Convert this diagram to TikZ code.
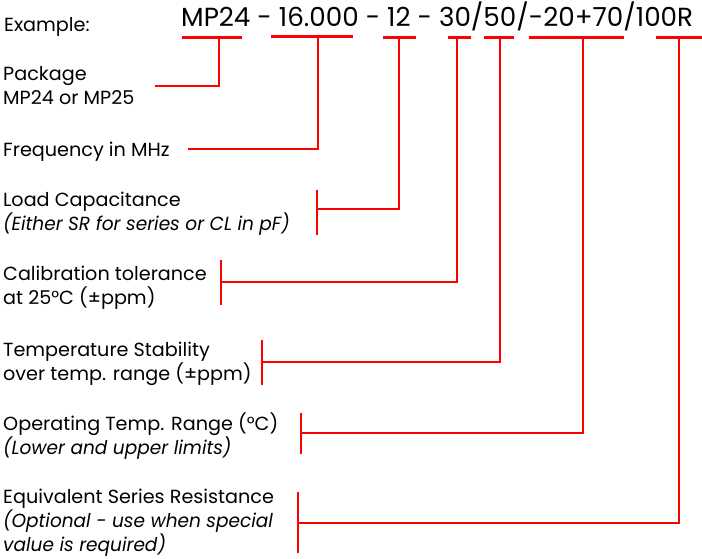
\documentclass[tikz,border=0pt]{standalone}
\usepackage{fontspec}
\setmainfont{Poppins}
\newfontfamily\lblfont[FakeStretch=1.01,ItalicFeatures={FakeStretch=0.975}]{Poppins}
\begin{document}
\begin{tikzpicture}[x=1pt,y=-1pt,
  lbl/.style={anchor=base west,inner sep=0pt,font=\lblfont\fontsize{19}{24}\selectfont,align=left},
  code/.style={anchor=base west,inner sep=0pt,font=\fontsize{26.2}{30}\selectfont},
  redline/.style={draw=red,line width=2.8pt}]
\useasboundingbox (0,0) rectangle (702,558);
% texts (anchored at the baseline of their last line)
\node[lbl] (ex) at (4,31) {Example:};
\node[code] (cd) at (181,26.5) {MP24 - 16.000 - 12 - 30/50/-20+70/100R};
\node[lbl] (pk) at (3,104) {Package\\MP24 or MP25};
\node[lbl] (fq) at (3,156.5) {Frequency in MHz};
\node[lbl] (lc) at (3,230) {Load Capacitance\\\itshape (Either SR for series or CL in pF)};
\node[lbl] (ct) at (3,304) {Calibration tolerance\\at 25°C (±ppm)};
\node[lbl] (ts) at (3,380) {Temperature Stability\\over temp. range (±ppm)};
\node[lbl] (ot) at (3,454) {Operating Temp. Range (°C)\\\itshape (Lower and upper limits)};
\node[lbl] (es) at (3,551.5) {Equivalent Series Resistance\\\itshape (Optional - use when special\\\itshape value is required)};
% stem tops
\coordinate (t1) at (219,37.7);
\coordinate (t2) at (318,36.7);
\coordinate (t3) at (399,37.7);
\coordinate (t4) at (457,37.7);
\coordinate (t5) at (500,37.7);
\coordinate (t6) at (583,37.7);
\coordinate (t7) at (679,37.7);
% bars
\draw[redline] ([xshift=-37pt]t1) -- ([xshift=23pt]t1);
\draw[redline] ([xshift=-47pt]t2) -- ([xshift=35pt]t2);
\draw[redline] ([xshift=-16pt]t3) -- ([xshift=17pt]t3);
\draw[redline] ([xshift=-9pt]t4) -- ([xshift=14pt]t4);
\draw[redline] ([xshift=-16pt]t5) -- ([xshift=14pt]t5);
\draw[redline] ([xshift=-54pt]t6) -- ([xshift=41pt]t6);
\draw[redline] ([xshift=-23pt]t7) -- ([xshift=24pt]t7);
% label ends
\coordinate (e1) at (155,86);
\coordinate (e2) at (188,149);
\coordinate (e3) at (317,209);
\coordinate (e4) at (221,282);
\coordinate (e5) at (262,362);
\coordinate (e6) at (301,433);
\coordinate (e7) at (298,523);
% ticks
\draw[redline] ([yshift=-26pt]e3) -- ([yshift=19pt]e3);
\draw[redline] ([yshift=-23pt]e4) -- ([yshift=22pt]e4);
\draw[redline] ([yshift=-23pt]e5) -- ([yshift=22pt]e5);
\draw[redline] ([yshift=-21pt]e6) -- ([yshift=20pt]e6);
\draw[redline] ([yshift=-30pt]e7) -- ([yshift=31pt]e7);
% connectors
\draw[redline] (e1) -| (t1);
\draw[redline] (e2) -| (t2);
\draw[redline] (e3) -| (t3);
\draw[redline] (e4) -| (t4);
\draw[redline] (e5) -| (t5);
\draw[redline] (e6) -| (t6);
\draw[redline] (e7) -| (t7);
\end{tikzpicture}
\end{document}
